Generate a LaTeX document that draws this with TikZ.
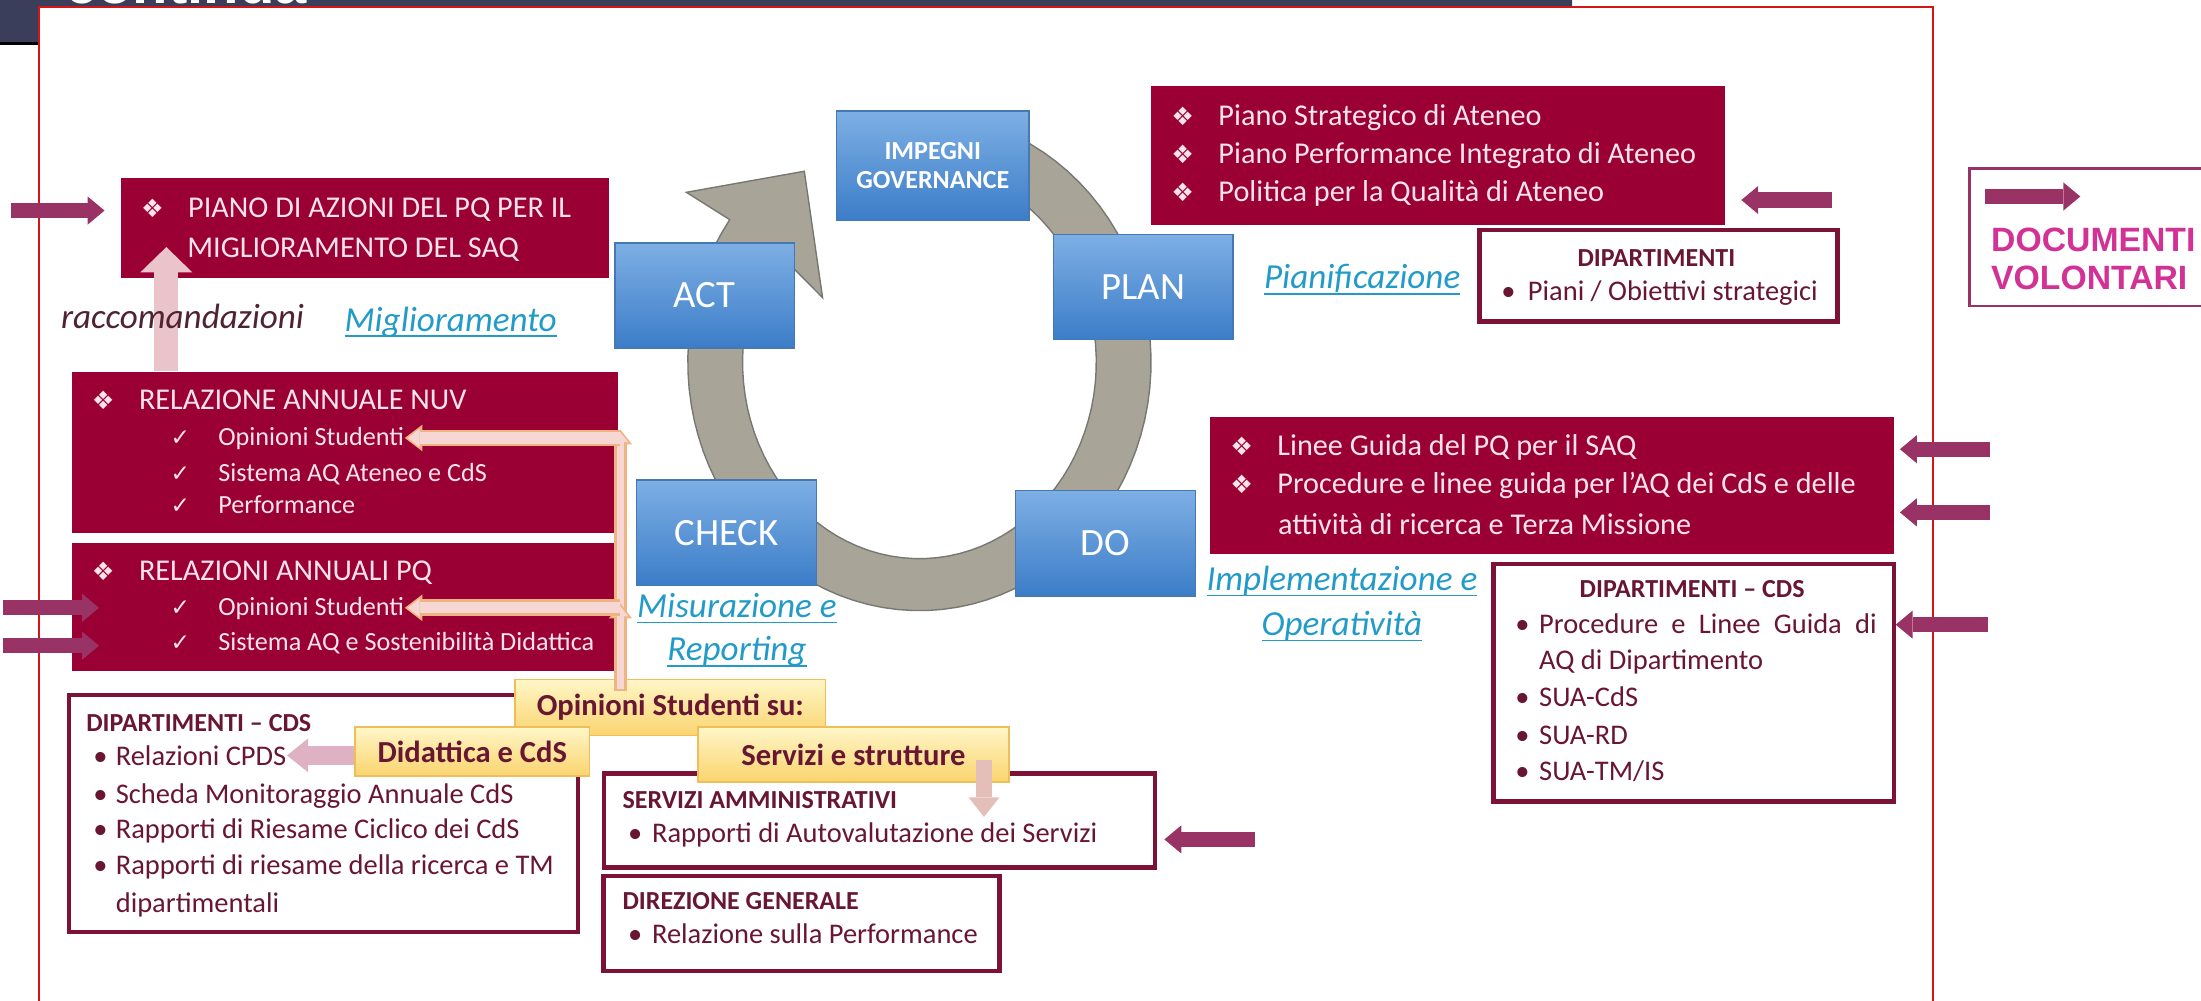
\documentclass[tikz,border=0pt]{standalone}
\usepackage{fontspec}
\setmainfont{Carlito}
\newfontfamily\arialf{Liberation Sans}
\newfontfamily\symf{DejaVu Sans}
\usetikzlibrary{arrows.meta}

\definecolor{barc}{RGB}{58,62,90}
\definecolor{framec}{RGB}{215,20,20}
\definecolor{crim}{RGB}{155,0,52}
\definecolor{crimtext}{RGB}{250,228,234}
\definecolor{wine}{RGB}{105,22,50}
\definecolor{bordr}{RGB}{125,18,55}
\definecolor{arrowc}{RGB}{153,51,102}
\definecolor{labc}{RGB}{35,155,200}
\definecolor{darkt}{RGB}{80,35,50}
\definecolor{ringc}{RGB}{168,165,152}
\definecolor{ringd}{RGB}{120,120,115}
\definecolor{bluet}{RGB}{125,175,228}
\definecolor{blueb}{RGB}{60,125,200}
\definecolor{blued}{RGB}{70,120,180}
\definecolor{yelt}{RGB}{255,246,200}
\definecolor{yelb}{RGB}{250,212,110}
\definecolor{yeld}{RGB}{238,190,90}
\definecolor{pinkf}{RGB}{246,215,212}
\definecolor{pinkd}{RGB}{240,180,130}
\definecolor{pinku}{RGB}{235,195,203}
\definecolor{pinkm}{RGB}{222,178,195}
\definecolor{pinks}{RGB}{228,190,185}
\definecolor{magt}{RGB}{210,50,150}

\def\pu{0.3994pt}
\newcommand{\dia}{\makebox[13.4pt][l]{\symf\fontsize{7.2}{8}\selectfont ❖}}
\newcommand{\chk}{\makebox[13.6pt][l]{\symf\fontsize{6.6}{8}\selectfont ✓}}
\newcommand{\bul}[1][6.6pt]{\makebox[#1][l]{•}}
\newcommand{\uln}[1]{\underline{\smash{#1}}}

\tikzset{
  sz/.style 2 args={minimum width=#1*\pu, minimum height=#2*\pu},
  pdca/.style={rectangle, top color=bluet, bottom color=blueb, draw=blued, line width=0.4pt,
    inner sep=0pt, sz={128}{75}, text=white, font=\fontsize{11}{13}\selectfont},
  crimbox/.style={rectangle, fill=crim, inner sep=0pt},
  wbox/.style={rectangle, draw=bordr, line width=1.2pt, fill=white, inner sep=0pt},
  ybox/.style={rectangle, top color=yelt, bottom color=yelb, draw=yeld, line width=0.5pt,
    inner sep=0pt, text=wine, font=\bfseries\fontsize{8.7}{10}\selectfont},
  ctxt/.style={anchor=base west, inner sep=0pt, text=crimtext, font=\fontsize{8.6}{10}\selectfont},
  citem/.style={ctxt, font=\fontsize{7.45}{9}\selectfont},
  wtitle/.style={anchor=base west, inner sep=0pt, text=wine, font=\bfseries\fontsize{7.4}{9}\selectfont},
  witem/.style={anchor=base west, inner sep=0pt, text=wine, font=\fontsize{8.1}{9}\selectfont},
  lab/.style={inner sep=0pt, text=labc, font=\itshape\fontsize{10}{12}\selectfont},
  doct/.style={anchor=base west, inner sep=0pt, text=magt, font=\arialf\bfseries\fontsize{9.6}{11}\selectfont},
  parr/.style={draw=arrowc, line width=4.3pt, -{Triangle[width=8pt,length=4.8pt,line width=0pt]}},
  pinkout/.style={draw=pinkd, line width=4.8pt, -{Triangle[width=7.6pt,length=5pt,line width=0pt]}},
  pinkin/.style={draw=pinkf, line width=3.2pt, shorten >=0.8pt, -{Triangle[width=5.2pt,length=3.4pt,line width=0pt]}},
  vout/.style={draw=pinkd, line width=3.8pt, -{Triangle[width=6.6pt,length=4.2pt,line width=0pt]}},
  vin/.style={draw=pinkf, line width=2.2pt, shorten >=0.8pt, -{Triangle[width=4.4pt,length=2.8pt,line width=0pt]}},
  uparr/.style={draw=pinku, line width=6.8pt, -{Triangle[width=14.8pt,length=7.2pt,line width=0pt]}},
  didarr/.style={draw=pinkm, line width=5.6pt, -{Triangle[width=9.6pt,length=6pt,line width=0pt]}},
  servarr/.style={draw=pinks, line width=4.4pt, -{Triangle[width=8.8pt,length=5.6pt,line width=0pt]}}
}

\begin{document}
\begin{tikzpicture}[x=0.014037cm, y=-0.014037cm]
\useasboundingbox (0,0) rectangle (1568,713);
\clip (0,0) rectangle (1568,713);

% title bar and frame
\fill[barc] (0,0) -- (1120,0) -- (1120,5) -- (28,5) -- (28,31) -- (0,31) -- cycle;
\draw[black, line width=0.8pt] (0,31) -- (28,31);
\node[anchor=base west, inner sep=0pt, text=white, font=\arialf\bfseries\fontsize{16.5}{18}\selectfont] (cont) at (46,2.4) {continua};
\draw[framec, line width=0.6pt] (28,720) -- (28,5) -- (1377,5) -- (1377,720);

% ring arrow
\fill[ringc, draw=ringd, line width=0.4pt]
  plot[domain=80:-215, samples=80] ({655+165*cos(\x)}, {258-177*sin(\x)})
  -- (489,137) -- (573,122) -- (586,212)
  -- plot[domain=-215:80, samples=80] ({655+126*cos(\x)}, {258-140*sin(\x)}) -- cycle;

% PDCA boxes
\node[pdca, sz={137}{78}, align=center, font=\bfseries\fontsize{7.4}{8.4}\selectfont] (imp) at (664.5,118) {IMPEGNI\\GOVERNANCE};
\node[pdca] (act) at (502,210.5) {ACT};
\node[pdca] (plan) at (814.5,204.5) {PLAN};
\node[pdca] (check) at (517.5,379.5) {CHECK};
\node[pdca] (do) at (787.5,387) {DO};

% crimson boxes
\node[crimbox, sz={409}{99}] (aten) at (1024.5,110.5) {};
\foreach \txt [count=\i] in {Piano Strategico di Ateneo, Piano Performance Integrato di Ateneo, Politica per la Qualità di Ateneo}
  \node[ctxt] (aten\i) at (834,62.7+27*\i) {\dia\txt};

\node[crimbox, sz={348}{71}] (piano) at (260,162.5) {};
\node[ctxt] (piano1) at (100,154.7) {\dia PIANO DI AZIONI DEL PQ PER IL};
\node[ctxt] (piano2) at (133,183.7) {MIGLIORAMENTO DEL SAQ};

\node[crimbox, sz={389}{115}] (nuv) at (245.5,322.5) {};
\node[ctxt] (nuv0) at (65,291.7) {\dia RELAZIONE ANNUALE NUV};
\foreach \txt/\y [count=\i] in {Opinioni Studenti/317.7, Sistema AQ Ateneo e CdS/342.7, Performance/365.7}
  \node[citem] (nuv\i) at (121,\y) {\chk\txt};

\node[crimbox, sz={389}{91}] (pq) at (245.5,432.5) {};
\node[ctxt] (pq0) at (65,413.7) {\dia RELAZIONI ANNUALI PQ};
\node[citem] (pq1) at (121,438.7) {\chk Opinioni Studenti};
\node[citem] (pq2) at (121,463.7) {\chk Sistema AQ e Sostenibilità Didattica};

\node[crimbox, sz={487}{98}] (linee) at (1105.5,346) {};
\node[ctxt] (linee1) at (876,324.7) {\dia Linee Guida del PQ per il SAQ};
\node[ctxt] (linee2) at (876,351.7) {\dia Procedure e linee guida per l’AQ dei CdS e delle};
\node[ctxt] (linee3) at (910,380.7) {attività di ricerca e Terza Missione};

% white boxes
\node[wbox, sz={255}{65}] (dip) at (1181.5,196.5) {};
\node[wtitle, anchor=base] (dip0) at (1180,189.9) {DIPARTIMENTI};
\node[witem] (dip1) at (1069,214) {\bul[7.6pt]Piani / Obiettivi strategici};

\node[wbox, sz={285}{169}] (dipr) at (1206.5,486.5) {};
\node[wtitle, anchor=base] (dipr0) at (1205.5,425.9) {DIPARTIMENTI – CDS};
\node[witem] (dipr1) at (1079,451.1) {\bul[6.8pt]\makebox[96pt][s]{Procedure e Linee Guida di}};
\node[witem] (dipr2) at (1096,477.1) {AQ di Dipartimento};
\foreach \txt/\y [count=\i from 3] in {SUA-CdS/503.1, SUA-RD/530.1, {SUA-TM/IS}/556.1}
  \node[witem] (dipr\i) at (1079,\y) {\bul[6.8pt]\txt};

\node[wbox, sz={363}{169}] (dipl) at (230.5,579.5) {};
\node[wtitle] (dipl0) at (61,520.9) {DIPARTIMENTI – CDS};
\foreach \txt/\y [count=\i] in {Relazioni CPDS/545.1, Scheda Monitoraggio Annuale CdS/572.1, Rapporti di Riesame Ciclico dei CdS/597.1, Rapporti di riesame della ricerca e TM/623.1}
  \node[witem] (dipl\i) at (66,\y) {\bul[6.4pt]\txt};
\node[witem] (dipl5) at (82,650.1) {dipartimentali};

\node[wbox, sz={393}{67}] (samm) at (626.5,584.5) {};
\node[wtitle] (samm0) at (443,575.9) {SERVIZI AMMINISTRATIVI};
\node[witem] (samm1) at (447,600.1) {\bul[6.8pt]Rapporti di Autovalutazione dei Servizi};

\node[wbox, sz={282}{68}] (dirg) at (571,658) {};
\node[wtitle] (dirg0) at (443,647.9) {DIREZIONE GENERALE};
\node[witem] (dirg1) at (447,672.1) {\bul[6.8pt]Relazione sulla Performance};

% raccomandazioni
\coordinate (ut) at (118.5,176);
\draw[uparr] (nuv.north -| ut) -- (ut);
\node[lab, text=darkt, anchor=base west] (racc) at (43,233.8) {raccomandazioni};

% student opinions
\node[ybox, sz={221}{40}] (opin) at (477.5,504) {Opinioni Studenti su:};
\coordinate (vt) at (442,306);
\coordinate (vm) at (442,430);
\foreach \vv in {vt,vm} {
  \draw[vout, shorten <=-3.6pt] (opin.north -| \vv) -- (\vv);
  \draw[vin, shorten <=-3pt] (opin.north -| \vv) -- (\vv);
}
\coordinate (h1) at (442,312);
\coordinate (h2) at (442,433);
\draw[pinkout] (h1) -- (h1 -| nuv1.east);
\draw[pinkin] (h1) -- (h1 -| nuv1.east);
\draw[pinkout] (h2) -- (h2 -| pq1.east);
\draw[pinkin] (h2) -- (h2 -| pq1.east);

\node[ybox, sz={167}{35}] (did) at (336.5,535.5) {Didattica e CdS};
\node[ybox, sz={222}{39}] (serv) at (608,537.5) {Servizi e strutture};
\draw[didarr] (did.west |- dipl1.east) -- (dipl1.east);
\coordinate (svt) at (701,582);
\draw[servarr, shorten <=-6.4pt] (serv.south -| svt) -- (svt);

% phase labels
\node[lab, anchor=base west] (migl) at (245,235.8) {\uln{Miglioramento}};
\node[lab, anchor=base west] (pian) at (900,205.8) {\uln{Pianificazione}};
\node[lab, anchor=base] (mis1) at (525,439.8) {\uln{Misurazione e}};
\node[lab, anchor=base] (mis2) at (525,470.8) {\uln{Reporting}};
\node[lab, anchor=base] (impl1) at (956,420.8) {\uln{Implementazione e}};
\node[lab, anchor=base] (impl2) at (956,452.8) {\uln{Operatività}};

% document arrows
\coordinate (a1) at (8,150);
\draw[parr, shorten >=4.4pt] (a1) -- (piano.west |- a1);
\coordinate (a2) at (2,433);
\coordinate (a3) at (2,460);
\foreach \ar in {a2,a3}
  \draw[parr, shorten >=-8pt] (\ar) -- (pq.west |- \ar);
\coordinate (a4) at (1305,142.5);
\draw[parr, shorten >=4.4pt] (a4) -- (aten.east |- a4);
\coordinate (a5) at (1418,320);
\coordinate (a6) at (1418,365);
\foreach \ar in {a5,a6}
  \draw[parr, shorten >=1.6pt] (\ar) -- (linee.east |- \ar);
\coordinate (a7) at (1416,445);
\draw[parr] (a7) -- (dipr.east |- a7);
\coordinate (a8) at (894,598);
\draw[parr, shorten >=2pt] (a8) -- (samm.east |- a8);

% legend
\node[rectangle, draw=arrowc, line width=0.7pt, sz={178}{98}, inner sep=0pt] (docv) at (1492,169) {};
\coordinate (a9) at (1414,140);
\coordinate (a9e) at (1482,140);
\draw[parr] (a9) -- (a9e);
\node[doct] (doc1) at (1418,179.3) {DOCUMENTI};
\node[doct] (doc2) at (1418,205.9) {VOLONTARI};
\end{tikzpicture}
\end{document}
